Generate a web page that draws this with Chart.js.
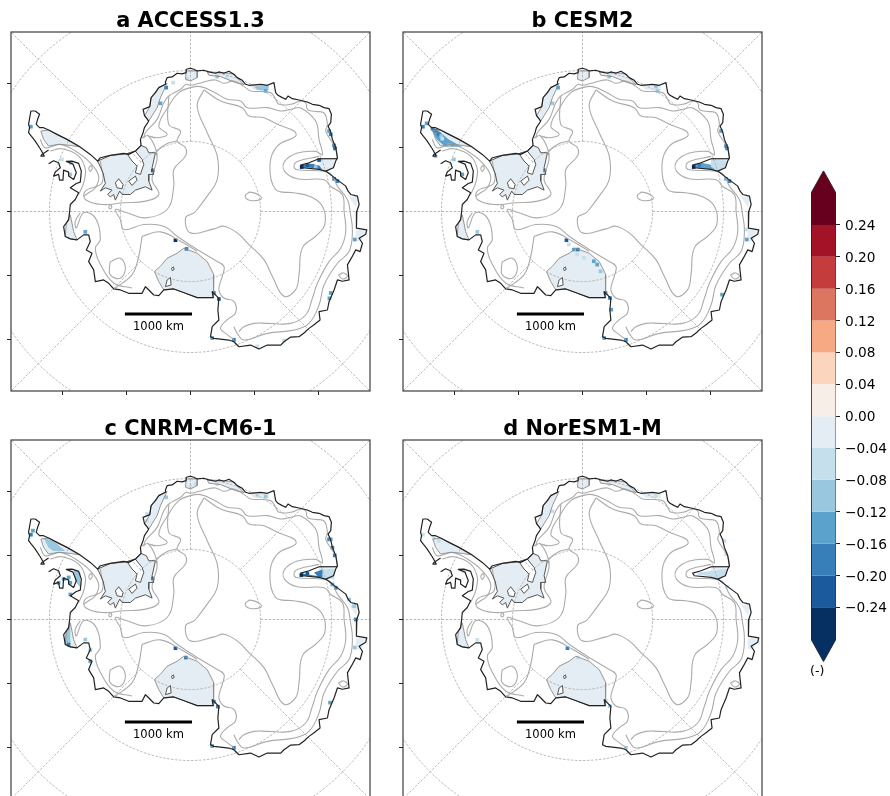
<!DOCTYPE html>
<html><head><meta charset="utf-8">
<script src="https://cdn.jsdelivr.net/npm/chart.js@4"></script>
<style>
html,body{margin:0;padding:0;background:#fff;overflow:hidden;width:890px;height:796px}
canvas{position:absolute;display:block}
</style></head><body>
<canvas id="pa" style="left:5px;top:0" width="370" height="400"></canvas>
<canvas id="pb" style="left:397px;top:0" width="370" height="400"></canvas>
<canvas id="pc" style="left:5px;top:408px" width="370" height="400"></canvas>
<canvas id="pd" style="left:397px;top:408px" width="370" height="400"></canvas>
<canvas id="cb" style="left:800px;top:160px" width="90" height="530"></canvas>
<script>
// ---- labels and scale values ----
const panelTitles = ['a ACCESS1.3','b CESM2','c CNRM-CM6-1','d NorESM1-M'];
const axisTicksKm = [-2000,-1000,0,1000,2000];
const axisLimitKm = 2800;
const scaleBarKm = [-1000,0];
const scaleBarNorthKm = -1600;
const scaleBarLabel = '1000 km';
const latCirclesKm = [1094,2200,3360];
const meridianAzimuths = [0,45,90,135,225,270,315];
const colorLevels = [-0.28,-0.24,-0.20,-0.16,-0.12,-0.08,-0.04,0,0.04,0.08,0.12,0.16,0.20,0.24,0.28];
const colorTicks = [-0.24,-0.20,-0.16,-0.12,-0.08,-0.04,0,0.04,0.08,0.12,0.16,0.20,0.24];
const colorBins = ['#053061','#1b5a9d','#377fb9','#5ba3cc','#98c7df','#c6dfed','#e4edf3','#f8eee8','#fcd5bf','#f6a983','#dc7660','#c43c3c','#a21328','#67001f'];
const colorUnit = '(-)';

// ---- map geometry (grid units: 3 per picture pixel, pole at 570,636) ----
const coastMain = [[422,438],[420,420],[428,400],[432,385],[445,365],[432,348],[428,330],[448,322],[452,295],[465,280],[475,265],[495,255],[495,248],[500,235],[515,233],[530,222],[545,224],[557,220],[557,210],[570,207],[580,210],[590,215],[610,213],[625,218],[645,222],[655,218],[670,222],[685,216],[700,225],[710,235],[725,243],[735,255],[745,258],[780,255],[800,258],[820,250],[825,280],[832,288],[845,295],[855,300],[862,290],[875,298],[895,302],[920,308],[935,315],[955,318],[970,325],[985,328],[992,345],[990,370],[982,380],[990,398],[995,420],[1005,445],[1010,475],[1005,485],[998,505],[975,515],[995,530],[1015,545],[1035,560],[1042,575],[1050,585],[1070,590],[1075,615],[1068,636],[1067,686],[1098,691],[1095,704],[1075,716],[1085,731],[1078,756],[1065,751],[1052,775],[1040,796],[1045,841],[1025,845],[1010,841],[1000,871],[985,906],[980,931],[955,936],[958,961],[940,975],[925,986],[910,1000],[895,1011],[870,1012],[850,1026],[840,1036],[800,1036],[775,1048],[750,1036],[715,1041],[700,1026],[685,1021],[640,1016],[630,1011],[635,981],[655,961],[652,931],[655,896],[635,876],[638,894],[590,894],[555,881],[520,868],[490,871],[475,888],[460,886],[440,866],[435,861],[425,881],[385,881],[360,871],[340,868],[325,851],[310,841],[285,846],[280,811],[265,786],[275,761],[258,751],[270,726],[265,706],[250,706],[230,721],[210,718],[195,711],[190,681],[205,661],[208,636],[210,615],[225,600],[235,580],[210,565],[228,552],[240,548],[243,515],[235,492],[215,485],[198,486],[218,494],[228,520],[220,540],[205,530],[205,518],[190,512],[188,542],[178,542],[175,525],[160,530],[165,518],[180,505],[175,490],[160,484],[145,493]];
const coastPeninsula = [[145,452],[125,465],[122,470],[132,470],[120,448],[105,425],[85,400],[88,385],[85,375],[92,335],[105,335],[118,345],[112,360],[108,375],[118,385],[130,385],[145,392],[170,405],[200,420],[235,440],[270,465],[292,485],[300,475],[330,468],[370,462],[385,465],[405,455],[422,438]];
const coastAmeryInner = [[955,478],[1010,478]];
const coastLambert = [[955,478],[925,490],[900,497],[905,505],[955,510],[975,515]];
const shelfRonne = [[292,485],[330,468],[380,463],[405,455],[422,438],[438,445],[445,460],[465,460],[455,505],[460,525],[445,525],[445,545],[455,572],[435,562],[405,572],[390,585],[365,585],[358,575],[345,602],[340,585],[330,592],[322,585],[335,572],[315,565],[300,575],[315,552],[308,520],[292,485]];
const shelfRoss = [[462,816],[480,800],[500,776],[530,761],[550,746],[590,761],[620,786],[630,805],[640,826],[640,866],[638,894],[590,894],[555,881],[520,868],[490,871],[475,846],[462,816]];
const shelfLarsen = [[122,395],[145,392],[200,420],[235,442],[210,438],[175,435],[145,440],[130,420],[122,395]];
const shelfAbbot = [[198,671],[210,646],[220,696],[230,721],[210,718],[195,711],[198,671]];
const shelfMaudWest = [[432,350],[448,322],[452,295],[475,265],[500,252],[480,295],[470,325],[445,365],[432,350]];
const shelfMaudTop = [[557,215],[590,215],[590,235],[570,245],[555,240],[557,215]];
const shelfMaudEast = [[620,218],[670,220],[700,225],[730,256],[705,250],[660,232],[625,228],[620,218]];
const shelfRiiser = [[745,258],[805,256],[805,272],[760,272],[745,258]];
const shelfWest = [[1065,690],[1098,692],[1080,725],[1065,725],[1065,690]];
const shelfShackleton = [[1045,590],[1072,592],[1066,625],[1050,600],[1045,590]];
const shelfAmery = [[955,478],[1005,483],[998,505],[975,515],[955,502],[955,478]];
const islandBerkner = [[380,463],[405,455],[425,480],[430,495],[420,525],[405,520],[410,500],[395,485],[380,463]];
const islandRonneA = [[345,550],[355,538],[368,555],[365,568],[350,565],[345,550]];
const islandRonneB = [[385,545],[405,530],[410,542],[395,558],[385,545]];
const islandRoss = [[500,841],[510,834],[512,856],[495,861],[500,841]];
const islandRossSmall = [[513,806],[519,802],[521,810],[515,813],[513,806]];
const contourPlateau = [[610,272],[590,320],[620,400],[650,470],[650,540],[620,590],[590,630],[580,640],[555,655],[570,700],[640,688],[670,680],[710,700],[745,735],[790,780],[815,830],[850,890],[885,870],[895,825],[905,745],[945,710],[972,675],[965,620],[925,590],[880,580],[825,570],[808,495],[830,440],[885,410],[880,395],[830,375],[790,355],[745,350],[725,325],[660,305],[610,272]];
const contourDome = [[735,585],[750,578],[780,590],[780,600],[750,603],[735,595],[735,585]];
const contourOuterNorth = [[430,418],[435,400],[470,360],[490,310],[505,290],[540,270],[557,255],[570,258],[610,248],[645,242],[670,252],[700,245],[735,265],[750,275],[810,280],[825,300],[835,315],[870,315],[900,305],[915,310],[920,330],[940,336],[970,341],[980,376],[975,396],[1005,446],[1010,478]];
const contourInnerNorth = [[443,410],[470,415],[500,405],[475,380],[505,320],[535,280],[570,265],[600,262],[640,278],[680,300],[720,305],[740,325],[800,325],[840,335],[870,330],[900,326],[945,366],[955,421],[965,466],[945,456],[890,461],[852,486],[852,516],[890,538],[970,541],[990,561],[1025,586],[1030,636],[1035,696],[1020,746],[985,786],[950,851],[935,896],[915,946],[870,971],[800,971],[760,971],[730,981],[715,996]];
const contourOuterEast = [[955,471],[890,486],[880,501],[890,511],[985,520],[1010,560],[1040,600],[1048,636],[1055,696],[1045,756],[1010,791],[970,856],[955,916],[925,971],[880,991],[800,1001],[730,1021],[710,1001],[700,981]];
const contourRonne = [[300,485],[305,550],[255,575],[255,600],[305,615],[370,610],[435,605],[475,585],[455,540],[470,470],[445,410],[425,415]];
const contourPeninsulaA = [[120,420],[135,445],[180,435],[225,455],[270,490],[295,530],[285,565],[265,580],[250,590]];
const contourPeninsulaB = [[150,455],[185,448],[235,470],[255,510],[250,550],[235,585]];
const contourDivide = [[505,290],[505,375],[540,395],[530,425],[555,445],[555,470],[520,510],[520,560],[500,630],[435,655],[380,640],[345,630],[360,660],[370,690],[430,675],[490,680],[530,710],[590,750],[640,780],[670,800],[665,830],[655,870],[670,895],[700,905],[705,940],[680,960],[660,985],[680,1005],[700,1020]];
const contourSpur = [[530,425],[500,432],[470,455],[470,470]];
const contourRossWest = [[425,710],[480,697],[540,725],[590,755]];
const contourRossSouth = [[425,710],[415,770],[395,825],[345,865]];
const contourByrd = [[330,786],[360,776],[375,806],[360,836],[330,826],[328,796],[330,786]];
const contourWestCoast = [[240,640],[225,665],[228,685],[250,640],[285,655],[300,720],[285,745],[298,790],[340,850],[395,865]];
const contourLoopA = [[265,505],[273,498],[275,510],[268,515],[265,505]];
const contourLoopB = [[1013,826],[1028,820],[1040,830],[1025,838],[1013,826]];
const contourLoopC = [[325,622],[331,616],[334,624],[328,628],[325,622]];

// ---- per-model anomalies: patches [points, value] and cells [x, y, value] ----
const patchesA = [
 [[[900,498],[925,492],[955,498],[965,510],[930,505],[905,505],[900,498]],-0.17],
 [[[760,262],[805,258],[803,272],[770,272],[760,262]],-0.09]];
const cellsA = [[903,503,-0.28],[920,497,-0.22],[935,499,-0.2],[945,503,-0.1],[955,482,-0.22],
 [985,395,-0.16],[990,405,-0.18],[1000,438,-0.18],[1003,447,-0.22],[1000,538,-0.18],[1010,545,-0.2],[1062,720,-0.16],[990,880,-0.14],[986,896,-0.14],
 [655,898,-0.22],[640,880,-0.2],[700,1020,-0.2],[635,1015,-0.14],[558,748,-0.18],[525,722,-0.26],[795,275,-0.14],[782,268,-0.12],[480,312,-0.14],[497,265,-0.18],[518,250,-0.08],[560,238,-0.08],[650,232,-0.12],[457,513,-0.22],[185,480,-0.07],[210,525,-0.12],[212,490,-0.12],[255,697,-0.14],[92,382,-0.14],[680,232,-0.08],[850,1022,-0.06],[770,1040,-0.06]];
const patchesB = [
 [[[114,385],[134,390],[169,420],[209,442],[159,442],[134,420],[114,385]],-0.13],
 [[[900,498],[925,490],[955,496],[968,510],[930,507],[905,505],[900,498]],-0.16],
 [[[955,480],[1005,484],[998,505],[975,515],[955,502],[955,480]],-0.07]];
const cellsB = [[121,388,-0.2],[131,394,-0.2],[139,405,-0.18],[147,410,-0.1],[150,418,-0.08],[170,438,-0.1],[92,382,-0.18],[103,372,-0.14],[130,470,-0.1],[185,480,-0.1],
 [903,503,-0.26],[920,497,-0.2],[556,750,-0.2],[544,750,-0.14],[604,785,-0.16],[614,795,-0.14],[624,815,-0.12],[529,735,-0.08],[522,722,-0.24],[639,880,-0.2],[652,895,-0.2],[656,930,-0.16],[554,765,-0.08],[574,775,-0.06],
 [985,395,-0.14],[1000,440,-0.18],[1003,447,-0.2],[1000,538,-0.16],[1010,545,-0.2],[1062,720,-0.14],[1060,690,-0.08],[988,885,-0.14],[700,1020,-0.2],[635,1015,-0.14],[795,275,-0.12],[497,265,-0.16],[480,312,-0.12],[457,513,-0.16],[210,525,-0.14],[650,232,-0.1],[790,262,-0.1],[255,697,-0.12]];
const patchesC = [
 [[[130,391],[160,401],[195,431],[160,431],[145,421],[130,391]],-0.11],
 [[[220,486],[240,496],[240,541],[225,521],[220,486]],-0.12],
 [[[195,681],[210,651],[210,711],[197,711],[195,681]],-0.11],
 [[[960,486],[1005,484],[1000,516],[965,511],[960,486]],-0.08],
 [[[905,498],[950,506],[940,495],[965,486],[965,510],[905,505],[905,498]],-0.2]];
const cellsC = [[902,503,-0.28],[920,498,-0.22],[205,510,-0.14],[175,526,-0.14],[190,515,-0.14],[210,526,-0.14],[210,561,-0.14],[92,382,-0.18],[98,370,-0.14],[205,711,-0.2],[255,696,-0.1],[270,761,-0.14],[270,728,-0.1],
 [985,396,-0.2],[995,421,-0.18],[1002,444,-0.2],[995,531,-0.16],[1005,541,-0.2],[1045,576,-0.1],[1060,596,-0.12],[1065,636,-0.18],[990,396,-0.14],
 [570,238,-0.08],[585,230,-0.06],[795,268,-0.12],[770,265,-0.08],[497,270,-0.12],[640,882,-0.2],[652,897,-0.2],[700,1020,-0.18],[635,1015,-0.14],[556,750,-0.18],[525,722,-0.24],[988,885,-0.14],[440,320,-0.06],[440,340,-0.07],[1062,720,-0.12],[457,513,-0.18],[650,230,-0.08]];
const patchesD = [
 [[[915,495],[960,490],[1005,484],[998,505],[975,515],[950,506],[915,502],[915,495]],-0.07]];
const cellsD = [[140,400,-0.06],[125,392,-0.06],[92,382,-0.06],[215,490,-0.06],[480,312,-0.06],[640,880,-0.08],[652,895,-0.1],[700,1020,-0.1],[556,750,-0.07],[525,722,-0.2],[1000,440,-0.08],[1003,538,-0.07],[995,400,-0.07],[790,266,-0.06],[650,230,-0.06],[255,697,-0.07]];

const panelPatches = [patchesA,patchesB,patchesC,patchesD];
const panelCells = [cellsA,cellsB,cellsC,cellsD];
const shelves = [shelfRonne,shelfRoss,shelfLarsen,shelfAbbot,shelfMaudWest,shelfMaudTop,shelfMaudEast,shelfRiiser,shelfWest,shelfShackleton,shelfAmery];
const islands = [islandBerkner,islandRonneA,islandRonneB,islandRoss,islandRossSmall];
const contours = [contourPlateau,contourDome,contourOuterNorth,contourInnerNorth,contourOuterEast,contourRonne,contourPeninsulaA,contourPeninsulaB,contourDivide,contourSpur,contourRossWest,contourRossSouth,contourByrd,contourWestCoast,contourLoopA,contourLoopB,contourLoopC];
const coasts = [coastMain,coastPeninsula,coastAmeryInner,coastLambert];
const groundingLines = [shelfRonne,islandBerkner,islandRonneA,islandRonneB,islandRoss,islandRossSmall];
const softShelfEdges = [shelfRoss,shelfLarsen,shelfMaudWest,shelfMaudTop,shelfMaudEast,shelfAbbot];

// ---- helpers ----
const KM_PER_GRID = 1000/192;
const toKm = p => ({x:(p[0]-570)*KM_PER_GRID, y:(636-p[1])*KM_PER_GRID});
const binColor = v => { for(let i=0;i<colorBins.length;i++){ if(v<colorLevels[i+1]) return colorBins[i]; } return colorBins[colorBins.length-1]; };
const path = (pts,color,width,extra) => Object.assign({type:'scatter',data:pts,showLine:true,pointRadius:0,borderColor:color,borderWidth:width,backgroundColor:color,tension:0,fill:false,borderJoinStyle:'round'},extra||{});
const GRAT = '#a9a9a9';

function graticule(){
  const out=[];
  latCirclesKm.forEach(r=>{
    const pts=[];
    for(let a=0;a<=360;a+=2) pts.push({x:r*Math.sin(a*Math.PI/180),y:r*Math.cos(a*Math.PI/180)});
    out.push(path(pts,GRAT,0.8,{borderDash:[2.5,1.5]}));
  });
  meridianAzimuths.forEach(az=>{
    const s=Math.sin(az*Math.PI/180),c=Math.cos(az*Math.PI/180),r0=latCirclesKm[0],r1=4200;
    out.push(path([{x:r0*s,y:r0*c},{x:r1*s,y:r1*c}],GRAT,0.8,{borderDash:[2.5,1.5]}));
  });
  return out;
}

const framePlugin = {id:'frame',afterDatasetsDraw(ch){
  const a=ch.chartArea,c=ch.ctx;
  c.save();c.strokeStyle='#2a2a2a';c.lineWidth=1.1;c.strokeRect(a.left,a.top,a.right-a.left,a.bottom-a.top);
  c.fillStyle='#000';c.font='11.5px "DejaVu Sans"';c.textAlign='center';c.textBaseline='middle';
  c.fillText(scaleBarLabel,ch.scales.x.getPixelForValue((scaleBarKm[0]+scaleBarKm[1])/2),ch.scales.y.getPixelForValue(scaleBarNorthKm)+12.5);
  c.restore();
}};

function panel(id,i){
  const bottomUp=[];
  shelves.forEach(s=>bottomUp.push(path(s.map(toKm),colorBins[6],0,{fill:'shape'})));
  panelPatches[i].forEach(p=>bottomUp.push(path(p[0].map(toKm),binColor(p[1]),0,{fill:'shape'})));
  islands.forEach(s=>bottomUp.push(path(s.map(toKm),'#ffffff',0,{fill:'shape'})));
  bottomUp.push({type:'scatter',data:panelCells[i].map(toKm),pointStyle:'rect',pointRadius:2.6,pointBorderWidth:0,showLine:false,
    pointBackgroundColor:panelCells[i].map(c=>binColor(c[2]))});
  graticule().forEach(g=>bottomUp.push(g));
  contours.forEach(c=>bottomUp.push(path(c.map(toKm),'#ababab',1.1,{tension:0.4})));
  softShelfEdges.forEach(c=>bottomUp.push(path(c.map(toKm),'#8a8a8a',0.9)));
  groundingLines.forEach(c=>bottomUp.push(path(c.map(toKm),'#555555',1)));
  coasts.forEach(c=>bottomUp.push(path(c.map(toKm),'#222222',1.2)));
  bottomUp.push(path(scaleBarKm.map(x=>({x,y:scaleBarNorthKm})),'#000',3,{borderCapStyle:'square'}));
  const axis=(pos,size)=>({type:'linear',position:pos,min:-axisLimitKm,max:axisLimitKm,
    afterBuildTicks:s=>{s.ticks=axisTicksKm.map(v=>({value:v}));},
    afterFit:s=>{ if(pos==='left') s.width=size; else s.height=size; },
    ticks:{display:false},border:{display:false},
    grid:{drawOnChartArea:false,drawTicks:true,tickLength:4,tickColor:'#222',tickWidth:1}});
  new Chart(document.getElementById(id),{
    type:'scatter',
    data:{datasets:bottomUp.reverse()},
    options:{responsive:false,animation:false,events:[],
      layout:{padding:{left:0,right:5,top:0,bottom:4}},
      scales:{x:axis('bottom',5),y:axis('left',6)},
      plugins:{legend:{display:false},tooltip:{enabled:false},
        title:{display:true,fullSize:false,text:panelTitles[i],color:'#000',font:{family:'"DejaVu Sans"',size:20.9,weight:'bold',lineHeight:1},padding:{top:11.1,bottom:0}}}},
    plugins:[framePlugin]});
}
['pa','pb','pc','pd'].forEach(panel);

// ---- colorbar ----
const EXT = 0.0282;
const OVERLAP = 0.003;
const lim = colorLevels[colorLevels.length-1];
const cbBottomUp = colorBins.map((col,i)=>path([{x:0,y:colorLevels[i]},{x:1,y:colorLevels[i]},{x:1,y:colorLevels[i+1]},{x:0,y:colorLevels[i+1]},{x:0,y:colorLevels[i]}],col,0,{fill:'shape'}));
cbBottomUp.push(path([{x:0,y:-lim+OVERLAP},{x:0,y:-lim},{x:0.5,y:-lim-EXT},{x:1,y:-lim},{x:1,y:-lim+OVERLAP},{x:0,y:-lim+OVERLAP}],colorBins[0],0,{fill:'shape'}));
cbBottomUp.push(path([{x:0,y:lim-OVERLAP},{x:0,y:lim},{x:0.5,y:lim+EXT},{x:1,y:lim},{x:1,y:lim-OVERLAP},{x:0,y:lim-OVERLAP}],colorBins[13],0,{fill:'shape'}));
cbBottomUp.push(path([{x:0,y:-lim},{x:0.5,y:-lim-EXT},{x:1,y:-lim},{x:1,y:lim},{x:0.5,y:lim+EXT},{x:0,y:lim},{x:0,y:-lim}],'#222',0.8));
new Chart(document.getElementById('cb'),{
  type:'scatter',
  data:{datasets:cbBottomUp.reverse()},
  options:{responsive:false,animation:false,events:[],
    layout:{padding:{left:11,right:0,top:10.65,bottom:28.35}},
    scales:{
      x:{type:'linear',min:0,max:1,display:false},
      y:{type:'linear',position:'right',min:-lim-EXT,max:lim+EXT,
        afterBuildTicks:s=>{s.ticks=colorTicks.map(v=>({value:v}));},
        afterFit:s=>{s.width=54;s.paddingTop=0;s.paddingBottom=0;},
        border:{display:false},
        grid:{drawOnChartArea:false,drawTicks:true,tickLength:4,tickColor:'#222',tickWidth:1},
        ticks:{autoSkip:false,padding:5,labelOffset:1.5,color:'#000',font:{family:'"DejaVu Sans"',size:13.7},
          callback:v=>(v<-1e-9?'\u2212':'')+Math.abs(v).toFixed(2)}}},
    plugins:{legend:{display:false},tooltip:{enabled:false}}},
  plugins:[{id:'unit',afterDatasetsDraw(ch){
    const c=ch.ctx;c.save();c.fillStyle='#000';c.font='12.5px "DejaVu Sans"';c.textAlign='center';c.textBaseline='middle';
    c.fillText(colorUnit,ch.scales.x.getPixelForValue(0.25),ch.scales.y.getPixelForValue(-lim-EXT)+10);c.restore();}}]
});
</script>
</body></html>
